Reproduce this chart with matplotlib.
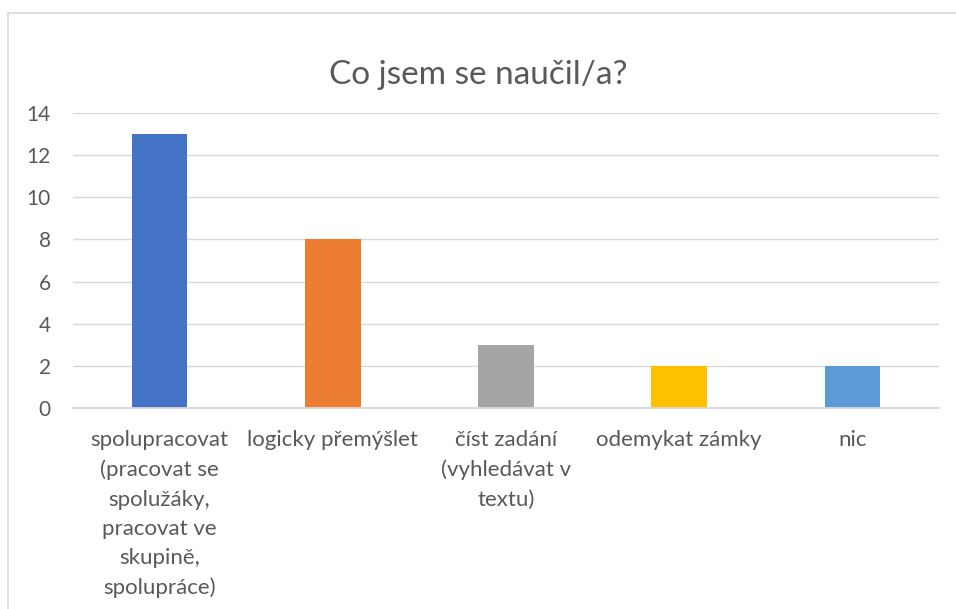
import matplotlib.pyplot as plt
from matplotlib.patches import Rectangle

# data
categories = [
    "spolupracovat\n(pracovat se\nspolužáky,\npracovat ve\nskupině,\nspolupráce)",
    "logicky přemýšlet",
    "číst zadání\n(vyhledávat v\ntextu)",
    "odemykat zámky",
    "nic",
]
counts = [13, 8, 3, 2, 2]
bar_colors = ["#4472C4", "#ED7D31", "#A5A5A5", "#FFC000", "#5B9BD5"]
y_ticks = [0, 2, 4, 6, 8, 10, 12, 14]

text_color = "#595959"
grid_color = "#D9D9D9"

plt.rcParams['font.family'] = ['Lato', 'DejaVu Sans']

W, H = 956, 609
fig = plt.figure(figsize=(W / 100, H / 100), dpi=100)

# chart frame like in Excel (right and bottom edges run off the picture)
frame = Rectangle((8 / W, -0.1), 1.2, 1.1 - 13 / H, transform=fig.transFigure,
                  fill=False, edgecolor=grid_color, linewidth=1.2)
fig.patches.append(frame)

ax = fig.add_axes([73 / W, 1 - 408 / H, (939 - 73) / W, (408 - 113) / H])

x = range(len(categories))
ax.bar(x, counts, width=0.32, color=bar_colors, zorder=3)

ax.set_xlim(-0.5, len(categories) - 0.5)
ax.set_ylim(0, 14)
ax.set_yticks(y_ticks)
ax.set_xticks(list(x))
ax.set_xticklabels(categories, fontsize=16, color=text_color, linespacing=1.58)
ax.tick_params(axis='y', labelsize=15, labelcolor=text_color, length=0, pad=16)
ax.tick_params(axis='x', length=0, pad=16)

ax.grid(axis='y', color=grid_color, linewidth=1, zorder=0)
for s in ['top', 'right', 'left']:
    ax.spines[s].set_visible(False)
ax.spines['bottom'].set_color(grid_color)
ax.spines['bottom'].set_linewidth(1.3)
ax.spines['bottom'].set_zorder(4)

fig.text(0.5, 1 - 75 / H, "Co jsem se naučil/a?", ha='center', va='center',
         fontsize=24, color=text_color)

fig.savefig("out.png", dpi=100)
